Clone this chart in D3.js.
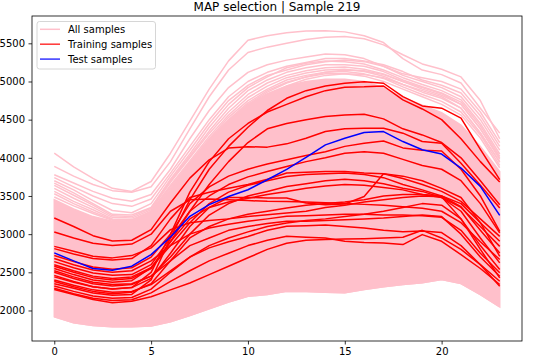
<!DOCTYPE html>
<html><head><meta charset="utf-8">
<script src="https://cdn.jsdelivr.net/npm/d3@7"></script>
<style>body{margin:0;background:#fff}svg{display:block}text{font-family:"DejaVu Sans",sans-serif;fill:#000}</style>
</head><body><div id="chart"></div>
<script>
const hours = [0,1,2,3,4,5,6,7,8,9,10,11,12,13,14,15,16,17,18,19,20,21,22,23];
const xTicks = [0,5,10,15,20];
const yTicks = [2000,2500,3000,3500,4000,4500,5000,5500];
const titleText = "MAP selection | Sample 219";
const legendLabels = ["All samples","Training samples","Test samples"];

// dense mass of "All samples" (lower and upper edge of the solid pink band)
const allLow  = [1918,1839,1804,1787,1787,1795,1852,1935,2022,2109,2187,2209,2252,2248,2239,2231,2274,2310,2340,2362,2405,2353,2209,2048];
const allHigh = [3450,3330,3230,3170,3160,3270,3580,3930,4240,4490,4690,4840,4940,5000,5030,5030,5000,4920,4790,4690,4590,4430,4150,3820];

// individually visible "All samples" lines
const allLines = [
 [4062,3880,3730,3600,3560,3690,4060,4480,4900,5270,5540,5600,5640,5660,5665,5650,5600,5510,5300,5150,5090,4980,4650,4323],
 [3887,3760,3650,3570,3548,3620,3950,4380,4800,5150,5380,5450,5500,5550,5580,5590,5560,5480,5350,5230,5160,5060,4750,4250],
 [3778,3670,3560,3470,3430,3520,3850,4250,4620,4920,5120,5220,5280,5320,5360,5350,5300,5200,5100,5050,5000,4900,4600,4200],
 [3740,3620,3500,3400,3364,3460,3800,4150,4500,4800,5000,5120,5200,5250,5300,5300,5270,5220,5130,5020,4950,4850,4550,4150],
 [3700,3580,3440,3310,3280,3400,3760,4100,4450,4750,4950,5080,5150,5220,5260,5280,5260,5200,5080,5000,4920,4800,4500,4100],
 [3669,3540,3400,3260,3250,3350,3720,4050,4400,4700,4920,5060,5180,5240,5270,5260,5230,5150,5050,4960,4880,4760,4450,4050],
 [3640,3510,3380,3240,3230,3340,3700,4020,4350,4650,4880,5020,5120,5180,5220,5220,5200,5130,5020,4930,4850,4730,4420,4020],
 [3600,3470,3350,3220,3210,3320,3680,4000,4320,4600,4830,4980,5080,5140,5180,5190,5160,5100,5000,4900,4820,4700,4380,3980],
 [3560,3430,3320,3200,3190,3300,3640,3960,4280,4560,4790,4940,5050,5110,5150,5160,5130,5070,4960,4860,4780,4650,4330,3940],
 [3529,3400,3290,3190,3180,3290,3620,3940,4250,4530,4750,4900,5020,5080,5120,5130,5100,5040,4930,4830,4740,4600,4300,3900],
 [3486,3370,3270,3180,3170,3280,3600,3920,4230,4500,4720,4880,4990,5060,5100,5100,5070,5000,4900,4800,4700,4560,4260,3870],
 [3300,3200,3120,3080,3080,3180,3500,3880,4200,4480,4700,4860,4980,5060,5120,5150,5140,5090,5000,4920,4840,4700,4380,4000],
 [3200,3100,3030,3000,3010,3120,3450,3820,4150,4420,4650,4820,4940,5030,5080,5100,5090,5050,4960,4880,4800,4650,4320,3950]
];

const trainLines = [
 [2350,2290,2230,2200,2210,2400,2950,3450,3850,4150,4400,4620,4780,4880,4940,4977,4998,4977,4802,4680,4650,4519,4110,3713],
 [2440,2370,2310,2280,2300,2500,3000,3550,3950,4250,4450,4600,4700,4800,4880,4925,4930,4941,4759,4640,4500,4250,3950,3682],
 [2550,2470,2400,2370,2390,2560,2900,3300,3650,3950,4200,4380,4450,4500,4540,4562,4571,4510,4380,4300,4200,4000,3700,3386],
 [3212,3100,2980,2910,2920,3059,3408,3734,3974,4127,4145,4140,4183,4257,4344,4380,4388,4388,4323,4213,4192,3930,3640,3343],
 [2720,2640,2570,2540,2560,2700,3000,3400,3620,3760,3850,3920,3974,4030,4080,4150,4190,4220,4130,4100,4090,3850,3500,3037],
 [2640,2560,2490,2460,2470,2600,2950,3300,3500,3650,3750,3820,3887,3950,4000,4060,4080,4060,3980,3900,3850,3700,3400,3016],
 [2810,2740,2680,2660,2680,2850,3200,3480,3550,3600,3650,3720,3800,3810,3820,3820,3800,3790,3730,3650,3560,3430,3200,2971],
 [2600,2520,2450,2420,2440,2560,2850,3150,3400,3550,3640,3700,3756,3780,3790,3800,3780,3740,3650,3580,3500,3400,3150,2906],
 [2500,2420,2350,2320,2340,2450,2700,3000,3250,3400,3500,3560,3625,3660,3700,3720,3700,3660,3600,3560,3480,3350,3100,2840],
 [2580,2500,2430,2400,2420,2550,2900,3200,3350,3420,3470,3520,3560,3600,3630,3650,3640,3610,3580,3520,3500,3360,3050,2754],
 [2460,2380,2310,2280,2300,2420,2750,3100,3350,3480,3480,3475,3473,3408,3386,3395,3494,3791,3760,3700,3600,3480,3150,2710],
 [3029,2950,2880,2850,2870,3000,3300,3450,3460,3450,3440,3430,3429,3420,3410,3400,3390,3380,3360,3340,3300,3150,2900,2667],
 [2380,2310,2250,2220,2240,2350,2650,2950,3100,3200,3260,3300,3343,3380,3400,3420,3450,3500,3520,3520,3480,3300,2950,2624],
 [2840,2775,2710,2689,2719,2820,3059,3150,3180,3200,3230,3255,3277,3300,3350,3380,3420,3450,3480,3500,3490,3200,2850,2536],
 [2680,2600,2530,2500,2520,2650,2850,3000,3080,3130,3170,3200,3233,3240,3250,3260,3260,3250,3250,3240,3220,3050,2750,2493],
 [2520,2440,2370,2340,2350,2450,2650,2850,2950,3050,3100,3140,3168,3170,3180,3190,3200,3210,3230,3250,3230,3000,2700,2448],
 [2320,2250,2190,2160,2170,2280,2500,2700,2850,2950,3030,3100,3146,3180,3200,3230,3260,3300,3350,3400,3380,3200,2800,2427],
 [2400,2330,2270,2240,2250,2340,2520,2700,2820,2900,2970,3050,3102,3110,3120,3100,3080,3050,3030,3040,3020,2850,2600,2383],
 [2290,2220,2160,2130,2140,2230,2380,2520,2650,2750,2850,2920,2971,2960,2950,2906,2890,2884,2863,2994,2906,2732,2550,2340],
 [2275,2209,2144,2100,2122,2180,2270,2360,2470,2580,2690,2800,2880,2920,2930,2935,2940,2950,2960,3050,2950,2800,2600,2318]
];

const testLine = [2754,2650,2549,2527,2580,2732,2963,3233,3386,3494,3582,3713,3848,4005,4170,4257,4331,4344,4213,4105,4049,3866,3626,3246];

const W = 535, H = 357;
const M = {left: 32, right: 522, top: 16, bottom: 341};
const svg = d3.select("#chart").append("svg").attr("width", W).attr("height", H);

const x = d3.scaleLinear().domain([-1.15, 24.15]).range([M.left, M.right]);
const y = d3.scaleLinear().domain([1600, 5858]).range([M.bottom, M.top]);

const g = svg.append("g");
const line = d3.line().x((d, i) => x(hours[i])).y(d => y(d));
const area = d3.area().x((d, i) => x(hours[i])).y0((d, i) => y(allLow[i])).y1(d => y(d));

g.append("path").datum(allHigh).attr("d", area).attr("fill", "pink").attr("stroke", "pink").attr("stroke-width", 1.5);
g.append("path").datum(allLow).attr("d", line).attr("fill", "none").attr("stroke", "pink").attr("stroke-width", 1.5);
g.selectAll(".all").data(allLines).join("path").attr("class", "all")
  .attr("d", line).attr("fill", "none").attr("stroke", "pink").attr("stroke-width", 1.5).attr("stroke-linejoin", "round");
g.selectAll(".train").data(trainLines).join("path").attr("class", "train")
  .attr("d", line).attr("fill", "none").attr("stroke", "red").attr("stroke-width", 1.5).attr("stroke-linejoin", "round");
g.append("path").datum(testLine).attr("d", line).attr("fill", "none").attr("stroke", "blue").attr("stroke-width", 1.5).attr("stroke-linejoin", "round");

// axes
const xAxis = d3.axisBottom(x).tickValues(xTicks).tickSize(3.5).tickPadding(3.5).tickFormat(d3.format("d"));
const yAxis = d3.axisLeft(y).tickValues(yTicks).tickSize(3.5).tickPadding(3.5).tickFormat(d3.format("d"));
const xa = svg.append("g").attr("transform", `translate(0,${M.bottom})`).call(xAxis);
const ya = svg.append("g").attr("transform", `translate(${M.left},0)`).call(yAxis);
[xa, ya].forEach(a => {
  a.select(".domain").remove();
  a.selectAll("line").attr("stroke", "#000").attr("stroke-width", 0.8);
  a.selectAll("text").attr("font-size", 10).attr("font-family", "DejaVu Sans").attr("fill", "#000");
});
svg.append("rect").attr("x", M.left).attr("y", M.top).attr("width", M.right - M.left).attr("height", M.bottom - M.top)
  .attr("fill", "none").attr("stroke", "#000").attr("stroke-width", 0.8);

svg.append("text").attr("x", (M.left + M.right) / 2).attr("y", 10.5).attr("text-anchor", "middle")
  .attr("font-size", 12).text(titleText);

// legend
const leg = svg.append("g");
leg.append("rect").attr("x", 37).attr("y", 21.5).attr("width", 118.5).attr("height", 47.5).attr("rx", 2.5)
  .attr("fill", "#fff").attr("fill-opacity", 0.8).attr("stroke", "#cccccc").attr("stroke-width", 0.8);
const legColors = ["pink", "red", "blue"];
legendLabels.forEach((t, i) => {
  const yy = 29.3 + i * 14.9;
  leg.append("line").attr("x1", 40).attr("x2", 60).attr("y1", yy).attr("y2", yy)
    .attr("stroke", legColors[i]).attr("stroke-width", 1.5).attr("stroke-opacity", i === 0 ? 1 : 0.8);
  leg.append("text").attr("x", 68).attr("y", yy + 3.6).attr("font-size", 10).text(t);
});
</script></body></html>
